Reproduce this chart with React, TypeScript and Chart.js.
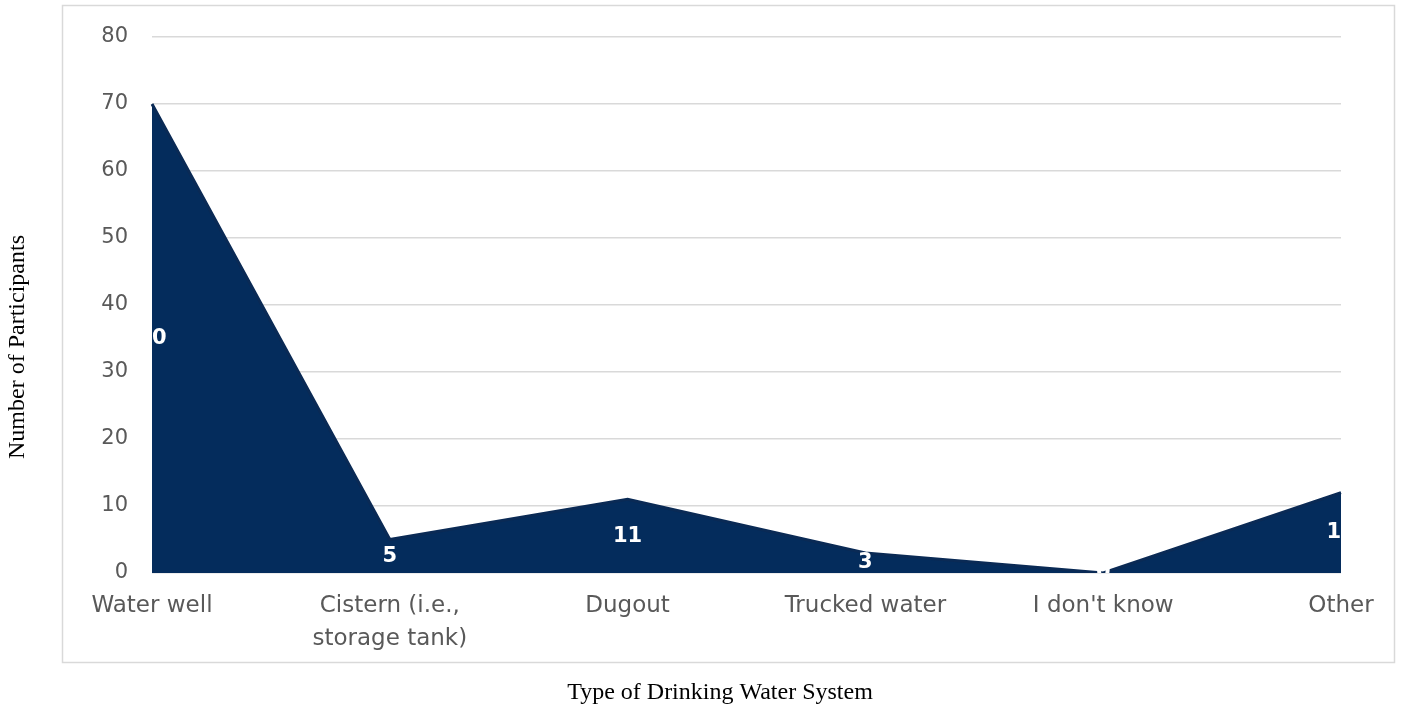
import React, { useEffect, useRef } from "react";
import { Chart, registerables } from "chart.js";

Chart.register(...registerables);

const categories: (string | string[])[] = [
  "Water well",
  ["Cistern (i.e.,", "storage tank)"],
  "Dugout",
  "Trucked water",
  "I don't know",
  "Other",
];
const participants: number[] = [70, 5, 11, 3, 0, 12];
const yTicks: number[] = [0, 10, 20, 30, 40, 50, 60, 70, 80];
const xTitle = "Type of Drinking Water System";
const yTitle = "Number of Participants";

const TICK_FONT = "'DejaVu Sans', sans-serif";
const TITLE_FONT = "'Liberation Serif', 'Times New Roman', serif";

const framePlugin = {
  id: "frame",
  beforeDraw(chart: any) {
    const ctx = chart.ctx;
    ctx.save();
    ctx.strokeStyle = "#d9d9d9";
    ctx.lineWidth = 1.5;
    ctx.strokeRect(62.5, 5.5, 1332, 657);
    ctx.restore();
  },
  afterDraw(chart: any) {
    const ctx = chart.ctx;
    ctx.save();
    ctx.fillStyle = "#000000";
    ctx.font = `24px ${TITLE_FONT}`;
    ctx.textAlign = "center";
    ctx.textBaseline = "middle";
    ctx.fillText(xTitle, 720, 693);
    ctx.translate(18, 347);
    ctx.rotate(-Math.PI / 2);
    ctx.fillText(yTitle, 0, 0);
    ctx.restore();
  },
};

const labelPlugin = {
  id: "midLabels",
  afterDatasetsDraw(chart: any) {
    const ctx = chart.ctx;
    const area = chart.chartArea;
    const meta = chart.getDatasetMeta(0);
    const yScale = chart.scales.y;
    ctx.save();
    ctx.beginPath();
    ctx.rect(area.left, area.top, area.right - area.left, area.bottom - area.top);
    ctx.clip();
    ctx.fillStyle = "#ffffff";
    ctx.font = `bold 21px ${TICK_FONT}`;
    ctx.textAlign = "center";
    ctx.textBaseline = "middle";
    meta.data.forEach((pt: any, i: number) => {
      const v = participants[i];
      const y = yScale.getPixelForValue(v / 2);
      ctx.fillText(String(v), pt.x, y);
    });
    ctx.restore();
  },
};

export default function App() {
  const ref = useRef<HTMLCanvasElement | null>(null);
  useEffect(() => {
    if (!ref.current) return;
    const chart = new Chart(ref.current, {
      type: "line",
      data: {
        labels: categories,
        datasets: [
          {
            data: participants,
            fill: "origin",
            backgroundColor: "#042c5c",
            borderColor: "#0a2a55",
            borderWidth: 3,
            pointRadius: 0,
            tension: 0,
          },
        ],
      },
      options: {
        animation: false,
        responsive: false,
        layout: { padding: { left: 0, right: 70, top: 37, bottom: 0 } },
        plugins: { legend: { display: false }, tooltip: { enabled: false } },
        scales: {
          x: {
            offset: false,
            grid: { display: false, drawTicks: false },
            border: { display: false },
            ticks: {
              color: "#595959",
              font: { family: TICK_FONT, size: 23, lineHeight: 1.45 },
              padding: 16,
              maxRotation: 0,
              autoSkip: false,
            },
            afterFit: (s: any) => {
              s.height = 137;
            },
          },
          y: {
            min: 0,
            max: 80,
            afterBuildTicks: (s: any) => {
              s.ticks = yTicks.map((v) => ({ value: v }));
            },
            grid: { color: "#d9d9d9", lineWidth: 1.5, drawTicks: false },
            border: { display: false },
            ticks: {
              color: "#595959",
              font: { family: TICK_FONT, size: 21 },
              padding: 24,
            },
            afterFit: (s: any) => {
              s.width = 152;
            },
          },
        },
      },
      plugins: [framePlugin, labelPlugin],
    });
    return () => chart.destroy();
  }, []);
  return (
    <div style={{ position: "fixed", left: 0, top: 0, width: 1411, height: 710, background: "#fff" }}>
      <canvas ref={ref} width={1411} height={710} style={{ display: "block" }} />
    </div>
  );
}
